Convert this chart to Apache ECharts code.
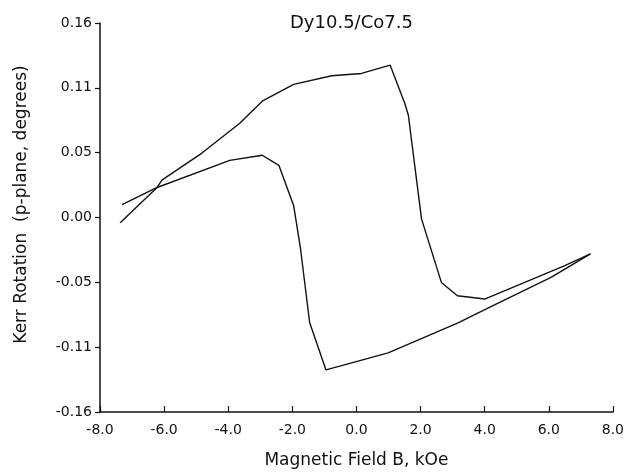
<!DOCTYPE html>
<html>
<head>
<meta charset="utf-8">
<script src="https://cdn.jsdelivr.net/npm/echarts@6/dist/echarts.min.js"></script>
<style>html,body{margin:0;padding:0;background:#fff}#c{width:627px;height:474px}</style>
</head>
<body>
<div id="c"></div>
<script>
// Branch A (peaks near -3 kOe, drops at -2 kOe)
const fieldA = [-7.31, -6.22, -3.95, -2.94, -2.42, -1.96, -1.75, -1.46, -0.95, 0.99, 3.17, 4.10, 6.07, 7.30];
const kerrA  = [0.0105, 0.0247, 0.047, 0.0512, 0.0429, 0.0099, -0.0245, -0.0864, -0.1254, -0.1114, -0.0866, -0.0745, -0.0492, -0.0299];
// Branch B (peaks near +1 kOe, drops at +2 kOe)
const fieldB = [-7.37, -6.22, -6.06, -4.82, -3.64, -2.94, -1.96, -0.77, 0.16, 1.05, 1.51, 1.62, 2.03, 2.65, 3.15, 4.00, 6.50, 7.30];
const kerrB  = [-0.0044, 0.0247, 0.031, 0.053, 0.0775, 0.0957, 0.1095, 0.1166, 0.1185, 0.1254, 0.0938, 0.0841, -0.0011, -0.0534, -0.0644, -0.0671, -0.0396, -0.0299];
// Tick labels
const xTickLabels = ['-8.0','-6.0','-4.0','-2.0','0.0','2.0','4.0','6.0','8.0'];
const yTickLabels = ['-0.16','-0.11','-0.05','0.00','0.05','0.11','0.16'];
const titleText = 'Dy10.5/Co7.5';
const xName = 'Magnetic Field B, kOe';
const yName = 'Kerr Rotation  (p-plane, degrees)';

const yStep = 0.16 / 3;
const font = 'DejaVu Sans';
const chart = echarts.init(document.getElementById('c'), null, {renderer: 'canvas'});
chart.setOption({
  backgroundColor: '#fff',
  animation: false,
  title: {
    text: titleText, left: 290, top: 14, padding: 0,
    textStyle: {fontFamily: font, fontSize: 18, fontWeight: 'normal', color: '#111'}
  },
  grid: {left: 100, right: 13, top: 23, bottom: 61, containLabel: false},
  xAxis: {
    type: 'value', min: -8, max: 8, interval: 2,
    name: xName, nameLocation: 'middle', nameGap: 40,
    nameTextStyle: {fontFamily: font, fontSize: 17, color: '#111'},
    axisLine: {show: true, onZero: false, lineStyle: {color: '#111', width: 1.5}},
    axisTick: {show: true, inside: true, length: 6, lineStyle: {color: '#111', width: 1.2}},
    axisLabel: {fontFamily: font, fontSize: 14, color: '#111', margin: 11,
      formatter: v => xTickLabels[Math.round((v + 8) / 2)]},
    splitLine: {show: false}
  },
  yAxis: {
    type: 'value', min: -0.16, max: 0.16, interval: yStep,
    name: yName, nameLocation: 'middle', nameGap: 70,
    nameTextStyle: {fontFamily: font, fontSize: 17, color: '#111', padding: [0, 0, 0, 26]},
    axisLine: {show: true, onZero: false, lineStyle: {color: '#111', width: 1.5}},
    axisTick: {show: true, inside: false, length: 5, lineStyle: {color: '#111', width: 1.2}},
    axisLabel: {fontFamily: font, fontSize: 14, color: '#111', margin: 8,
      formatter: v => yTickLabels[Math.round(v / yStep) + 3]},
    splitLine: {show: false}
  },
  series: [
    {type: 'line', data: fieldA.map((x, i) => [x, kerrA[i]]), symbol: 'none',
     lineStyle: {color: '#111', width: 1.4}},
    {type: 'line', data: fieldB.map((x, i) => [x, kerrB[i]]), symbol: 'none',
     lineStyle: {color: '#111', width: 1.4}}
  ]
});
</script>
</body>
</html>
